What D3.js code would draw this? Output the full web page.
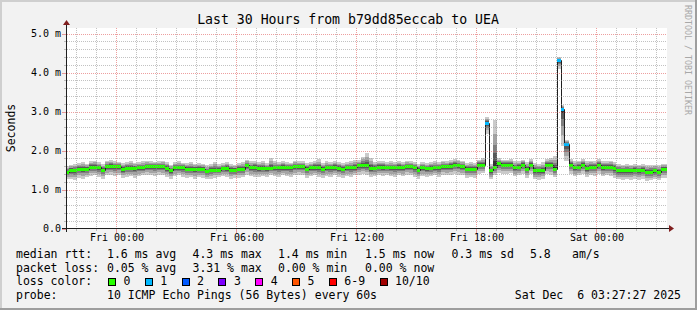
<!DOCTYPE html>
<html>
<head>
<meta charset="utf-8">
<script src="https://cdn.jsdelivr.net/npm/d3@7"></script>
<style>
body { margin: 0; background: #fff; }
svg text { font-family: "DejaVu Sans Mono", monospace; white-space: pre; }
</style>
</head>
<body>
<script>
// Execute script when window is loaded
window.onload = function(){

    // SVG dimension variables
    var w = 697, h = 310;

    // time window of the graph and RRD step (12 minutes per row)
    var viewStart = new Date(2025, 11, 4, 21, 30);
    var viewEnd = new Date(2025, 11, 6, 3, 30);
    var firstStep = new Date(2025, 11, 4, 21, 24);
    var stepMinutes = 12;
    var yMax = 5.13; // SmokePing upper limit (ms)

    // median rtt per step (ms)
    var median = [
        1.44,1.50,1.49,1.53,1.53,1.53,1.59,1.59,1.57,1.50,
        1.60,1.60,1.60,1.60,1.52,1.56,1.56,1.56,1.57,1.57,
        1.60,1.60,1.60,1.60,1.60,1.55,1.49,1.57,1.57,1.57,
        1.53,1.53,1.53,1.53,1.53,1.47,1.51,1.51,1.51,1.55,
        1.55,1.50,1.50,1.53,1.53,1.63,1.57,1.57,1.55,1.55,
        1.55,1.55,1.57,1.57,1.57,1.57,1.57,1.60,1.60,1.60,
        1.53,1.57,1.57,1.57,1.53,1.57,1.57,1.57,1.55,1.53,
        1.57,1.57,1.57,1.62,1.62,1.62,1.55,1.55,1.58,1.58,
        1.58,1.57,1.57,1.57,1.57,1.60,1.60,1.57,1.51,1.57,
        1.55,1.55,1.57,1.57,1.60,1.60,1.60,1.63,1.63,1.60,
        1.53,1.53,1.53,1.64,1.64,2.71,1.49,1.59,1.68,1.64,
        1.64,1.64,1.57,1.59,1.64,1.53,1.64,1.49,1.49,1.49,
        1.64,1.64,1.53,4.31,3.07,2.17,1.64,1.57,1.59,1.64,
        1.55,1.59,1.59,1.64,1.57,1.59,1.59,1.55,1.49,1.49,
        1.49,1.49,1.51,1.49,1.51,1.46,1.46,1.49,1.46,1.53,
        1.53
    ];

    // slowest ping per step (ms)
    var pingHi = [
        1.60,1.64,1.66,1.68,1.70,1.66,1.72,1.74,1.70,1.66,
        1.74,1.76,1.72,1.70,1.68,1.70,1.72,1.68,1.70,1.72,
        1.74,1.72,1.70,1.72,1.74,1.70,1.64,1.70,1.72,1.68,
        1.68,1.70,1.66,1.68,1.66,1.62,1.66,1.70,1.66,1.68,
        1.70,1.66,1.64,1.68,1.70,1.76,1.72,1.74,1.70,1.72,
        1.68,1.80,1.72,1.70,1.74,1.70,1.68,1.74,1.72,1.72,
        1.68,1.70,1.74,1.78,1.68,1.72,1.70,1.74,1.70,1.68,
        1.70,1.72,1.76,1.76,1.84,1.93,1.80,1.70,1.74,1.72,
        1.70,1.72,1.70,1.74,1.70,1.74,1.72,1.70,1.66,1.70,
        1.68,1.70,1.72,1.70,1.74,1.72,1.76,1.78,1.76,1.74,
        1.68,1.70,1.68,1.76,1.80,2.85,1.66,2.79,1.80,1.76,
        1.76,1.78,1.72,1.72,1.76,1.70,1.78,1.68,1.66,1.70,
        1.78,1.80,1.86,4.40,3.16,2.28,1.78,1.72,1.74,1.78,
        1.72,1.74,1.72,1.78,1.74,1.72,1.74,1.70,1.66,1.64,
        1.66,1.64,1.66,1.64,1.66,1.62,1.64,1.64,1.62,1.66,
        1.66
    ];

    // fastest ping per step (ms)
    var pingLo = [
        1.27,1.26,1.24,1.30,1.28,1.32,1.34,1.36,1.32,1.28,
        1.36,1.38,1.34,1.36,1.30,1.32,1.34,1.30,1.34,1.36,
        1.38,1.36,1.34,1.38,1.36,1.32,1.28,1.34,1.36,1.32,
        1.30,1.32,1.28,1.32,1.30,1.26,1.28,1.30,1.32,1.34,
        1.32,1.28,1.30,1.30,1.32,1.38,1.34,1.32,1.32,1.34,
        1.32,1.36,1.34,1.32,1.36,1.34,1.32,1.36,1.38,1.36,
        1.30,1.34,1.36,1.32,1.30,1.34,1.32,1.36,1.32,1.30,
        1.34,1.32,1.36,1.38,1.40,1.38,1.32,1.34,1.36,1.34,
        1.36,1.34,1.32,1.36,1.34,1.38,1.36,1.32,1.28,1.34,
        1.32,1.34,1.36,1.32,1.38,1.36,1.38,1.40,1.38,1.36,
        1.30,1.32,1.30,1.40,1.42,2.43,1.26,1.36,1.42,1.40,
        1.40,1.42,1.34,1.36,1.40,1.30,1.40,1.26,1.24,1.28,
        1.40,1.38,1.32,4.10,2.12,1.74,1.40,1.34,1.36,1.40,
        1.32,1.36,1.34,1.40,1.34,1.36,1.34,1.30,1.26,1.24,
        1.26,1.24,1.26,1.24,1.26,1.22,1.24,1.26,1.24,1.30,
        1.30
    ];

    // lost pings (of 10) per step
    var lost = [
        0,0,0,0,0,0,0,0,0,0, 0,0,0,0,0,0,0,0,0,0,
        0,0,0,0,0,0,0,0,0,0, 0,0,0,0,0,0,0,0,0,0,
        0,0,0,0,0,0,0,0,0,0, 0,0,0,0,0,0,0,0,0,0,
        0,0,0,0,0,0,0,0,0,0, 0,0,0,0,0,0,0,0,0,0,
        0,0,0,0,0,0,0,0,0,0, 0,0,0,0,0,0,0,0,0,0,
        0,0,0,0,0,1,0,0,0,0, 0,0,0,0,0,0,0,0,0,0,
        0,0,0,1,1,1,0,0,0,0, 0,0,0,0,0,0,0,0,0,0,
        0,0,0,0,0,0,0,0,0,0, 0
    ];

    // y-axis ticks and legend content
    var yTicks = [0, 1, 2, 3, 4, 5];
    var yTickLabels = ["0.0", "1.0 m", "2.0 m", "3.0 m", "4.0 m", "5.0 m"];
    var rttStats = ["1.6 ms avg", "4.3 ms max", "1.4 ms min", "1.5 ms now", "0.3 ms sd"];
    var lossStats = ["0.05 % avg", "3.31 % max", "0.00 % min", "0.00 % now"];
    var lossLabels = ["0", "1", "2", "3", "4", "5", "6-9", "10/10"];
    var lossColors = ["#26ff00", "#00b8ff", "#0059ff", "#7e00ff", "#ff00ff", "#ff5500", "#ff0000", "#a10000"];
    var smokeShades = ["#cacaca", "#a4a4a4", "#7e7e7e", "#585858", "#323232"];

    // Container block
    var svg = d3.select("body")
        .append("svg")
        .attr("width", w)
        .attr("height", h);

    // background and 3d frame
    svg.append("rect").attr("width", w).attr("height", h).style("fill", "#f2f2f2");
    svg.append("rect").attr("width", w).attr("height", 2).style("fill", "#cfcfcf");
    svg.append("rect").attr("width", 2).attr("height", h).style("fill", "#cfcfcf");
    svg.append("rect").attr("y", h - 2).attr("width", w).attr("height", 2).style("fill", "#9e9e9e");
    svg.append("rect").attr("x", w - 2).attr("width", 2).attr("height", h).style("fill", "#9e9e9e");

    // scales
    var x = d3.scaleTime()
        .domain([viewStart, viewEnd])
        .range([66.5, 666.5]);

    var y = d3.scaleLinear()
        .domain([0, yMax])
        .range([228.5, 28.5]);

    // canvas
    svg.append("rect")
        .attr("x", 66).attr("y", 28)
        .attr("width", 601).attr("height", 201)
        .style("fill", "#ffffff");

    svg.append("clipPath").attr("id", "plot")
        .append("rect")
        .attr("x", 67).attr("y", 28)
        .attr("width", 600).attr("height", 200);

    // rows of the rrd
    var rows = median.map(function(m, i){
        var t0 = d3.timeMinute.offset(firstStep, i * stepMinutes);
        return { t0: t0, t1: d3.timeMinute.offset(t0, stepMinutes),
                 med: m, lo: pingLo[i], hi: pingHi[i], lost: lost[i] };
    });

    var plot = svg.append("g").attr("clip-path", "url(#plot)");

    // smoke: nested bands from the outer pings towards the median
    var bandFrac = [1, 0.7, 0.46, 0.28, 0.12];
    bandFrac.forEach(function(f, b){
        plot.append("g")
            .attr("shape-rendering", "crispEdges")
            .selectAll("rect")
            .data(rows)
            .enter()
            .append("rect")
            .attr("x", function(d){ return Math.round(x(d.t0)); })
            .attr("width", function(d){ return Math.round(x(d.t1)) - Math.round(x(d.t0)); })
            .attr("y", function(d){ return Math.round(y(d.med + (d.hi - d.med) * f)); })
            .attr("height", function(d){
                return Math.max(1, Math.round(y(d.med - (d.med - d.lo) * f)) - Math.round(y(d.med + (d.hi - d.med) * f)));
            })
            .style("fill", smokeShades[b]);
    });

    // thin median line
    var linePts = rows.map(function(d){ return [d.t0, d.med]; });
    linePts.push([rows[rows.length - 1].t1, rows[rows.length - 1].med]);
    plot.append("path")
        .datum(linePts)
        .attr("d", d3.line()
            .x(function(d){ return Math.round(x(d[0])) + 0.5; })
            .y(function(d){ return Math.round(y(d[1])) + 0.5; })
            .curve(d3.curveStepAfter))
        .style("fill", "none")
        .style("stroke", "#202020")
        .style("stroke-width", 1);

    // loss coloured median bars
    function lossIndex(n){
        if (n <= 5) return n;
        if (n < 10) return 6;
        return 7;
    }
    plot.append("g")
        .attr("shape-rendering", "crispEdges")
        .selectAll("rect")
        .data(rows)
        .enter()
        .append("rect")
        .attr("x", function(d){ return Math.round(x(d.t0)); })
        .attr("width", function(d){ return Math.round(x(d.t1)) - Math.round(x(d.t0)); })
        .attr("y", function(d){ return Math.round(y(d.med)) - 1; })
        .attr("height", 3)
        .style("fill", function(d){ return lossColors[lossIndex(d.lost)]; });

    // grid (drawn in front, like rrdtool)
    var grid = svg.append("g").attr("shape-rendering", "crispEdges");
    var minorGrid = "rgba(143,143,143,0.55)";
    var majorGrid = "rgba(222,80,80,0.55)";

    var yMinor = d3.range(0.2, 5.01, 0.2).filter(function(v){ return Math.abs(v - Math.round(v)) > 0.01; });
    grid.selectAll(".hmin").data(yMinor).enter().append("line")
        .attr("x1", 67).attr("x2", 667)
        .attr("y1", function(d){ return Math.round(y(d)) + 0.5; })
        .attr("y2", function(d){ return Math.round(y(d)) + 0.5; })
        .style("stroke", minorGrid).style("stroke-dasharray", "1,1");
    grid.selectAll(".hmaj").data(yTicks.slice(1)).enter().append("line")
        .attr("x1", 67).attr("x2", 667)
        .attr("y1", function(d){ return Math.round(y(d)) + 0.5; })
        .attr("y2", function(d){ return Math.round(y(d)) + 0.5; })
        .style("stroke", majorGrid).style("stroke-dasharray", "1,1");

    var hours = d3.timeHour.range(viewStart, viewEnd);
    grid.selectAll(".vgrid").data(hours).enter().append("line")
        .attr("x1", function(d){ return x(d); })
        .attr("x2", function(d){ return x(d); })
        .attr("y1", 28).attr("y2", 228)
        .style("stroke", function(d){ return d.getHours() % 6 === 0 ? majorGrid : minorGrid; })
        .style("stroke-dasharray", "1,1");

    // axis tick marks
    grid.selectAll(".ytick").data(d3.range(0, 5.01, 0.2)).enter().append("line")
        .attr("x1", function(d){ return Math.abs(d - Math.round(d)) < 0.01 ? 62 : 64; })
        .attr("x2", 66)
        .attr("y1", function(d){ return Math.round(y(d)) + 0.5; })
        .attr("y2", function(d){ return Math.round(y(d)) + 0.5; })
        .style("stroke", function(d){ return Math.abs(d - Math.round(d)) < 0.01 ? majorGrid : minorGrid; });
    grid.selectAll(".xtick").data(hours).enter().append("line")
        .attr("x1", function(d){ return x(d); })
        .attr("x2", function(d){ return x(d); })
        .attr("y1", 229)
        .attr("y2", function(d){ return d.getHours() % 6 === 0 ? 233 : 231; })
        .style("stroke", function(d){ return d.getHours() % 6 === 0 ? majorGrid : minorGrid; });

    // axes with arrows
    svg.append("line").attr("x1", 62).attr("x2", 670).attr("y1", 228.5).attr("y2", 228.5)
        .style("stroke", "#1f1f1f").attr("shape-rendering", "crispEdges");
    svg.append("line").attr("x1", 66.5).attr("x2", 66.5).attr("y1", 232).attr("y2", 24)
        .style("stroke", "#1f1f1f").attr("shape-rendering", "crispEdges");
    svg.append("path").attr("d", "M669,225 L674,228.5 L669,232 Z").style("fill", "#801f1f");
    svg.append("path").attr("d", "M63,25 L66.5,20 L70,25 Z").style("fill", "#801f1f");

    // y tick labels
    svg.selectAll(".ylab").data(yTicks).enter().append("text")
        .attr("x", 61)
        .attr("y", function(d){ return y(d) + 3.5; })
        .attr("text-anchor", "end")
        .style("font-size", "10px")
        .text(function(d, i){ return yTickLabels[i]; });

    // x tick labels
    var majors = hours.filter(function(d){ return d.getHours() % 6 === 0; });
    var fmt = d3.timeFormat("%a %H:%M");
    svg.selectAll(".xlab").data(majors).enter().append("text")
        .attr("x", function(d){ return x(d) + 0.5; })
        .attr("y", 241)
        .attr("text-anchor", "middle")
        .style("font-size", "10px")
        .text(function(d){ return fmt(d); });

    // title
    svg.append("text")
        .attr("x", 348).attr("y", 23.5)
        .attr("text-anchor", "middle")
        .style("font-size", "13.2px")
        .text("Last 30 Hours from b79dd85eccab to UEA");

    // vertical label
    svg.append("text")
        .attr("transform", "translate(15,128) rotate(-90)")
        .attr("text-anchor", "middle")
        .style("font-size", "11.5px")
        .text("Seconds");

    // rrdtool watermark
    svg.append("text")
        .attr("transform", "translate(685,5) rotate(90)")
        .style("font-size", "8.3px")
        .style("fill", "#a8a8a8")
        .text("RRDTOOL / TOBI OETIKER");

    // legend
    var legend = svg.append("g").style("font-size", "11.5px");
    var cols = [107, 192.5, 278, 365, 451.5];
    var rowY = [258, 271.7, 285.4, 299];

    legend.append("text").attr("x", 16).attr("y", rowY[0]).text("median rtt:");
    rttStats.forEach(function(s, i){
        legend.append("text").attr("x", cols[i]).attr("y", rowY[0]).text(s);
    });
    legend.append("text").attr("x", 530).attr("y", rowY[0]).text("5.8");
    legend.append("text").attr("x", 572).attr("y", rowY[0]).text("am/s");

    legend.append("text").attr("x", 16).attr("y", rowY[1]).text("packet loss:");
    lossStats.forEach(function(s, i){
        legend.append("text").attr("x", cols[i]).attr("y", rowY[1]).text(s);
    });

    // loss colour swatches flow left to right, spaced by label length
    legend.append("text").attr("x", 16).attr("y", rowY[2]).text("loss color:");
    var bx = 108;
    lossLabels.forEach(function(s, i){
        legend.append("rect")
            .attr("x", Math.round(bx) + 0.5).attr("y", 278.5)
            .attr("width", 7).attr("height", 7)
            .style("fill", lossColors[i])
            .style("stroke", "#000")
            .attr("shape-rendering", "crispEdges");
        legend.append("text").attr("x", bx + 15.5).attr("y", rowY[2]).text(s);
        bx += 29.85 + 6.95 * s.length;
    });

    legend.append("text").attr("x", 16).attr("y", rowY[3]).text("probe:");
    legend.append("text").attr("x", 107).attr("y", rowY[3]).text("10 ICMP Echo Pings (56 Bytes) every 60s");
    legend.append("text").attr("x", 681).attr("y", rowY[3]).attr("text-anchor", "end").text("Sat Dec  6 03:27:27 2025");

};
</script>
</body>
</html>
